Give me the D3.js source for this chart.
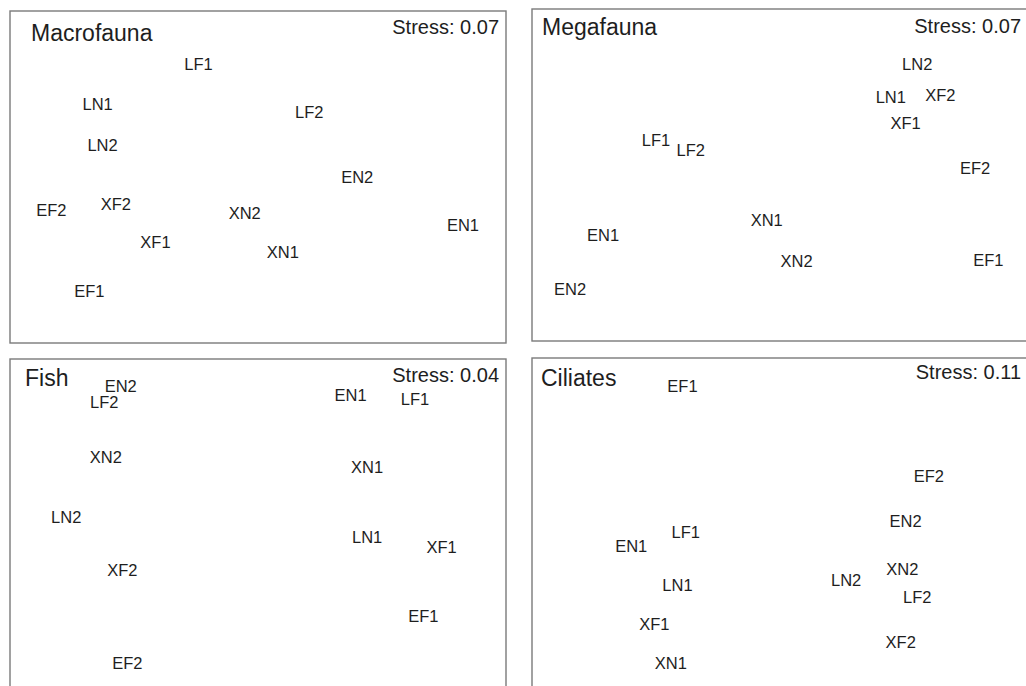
<!DOCTYPE html>
<html>
<head>
<meta charset="utf-8">
<script src="https://cdn.jsdelivr.net/npm/d3@7"></script>
<style>
  html, body { margin: 0; padding: 0; background: #fff; }
  svg { display: block; }
  text { font-family: "Liberation Sans", Arial, Helvetica, sans-serif; fill: #1e1e1e; }
</style>
</head>
<body>
<svg id="chart" width="1026" height="686"></svg>
<script>
// nMDS ordinations of sampling stations, one panel per faunal group
const panelNames = ["Macrofauna", "Megafauna", "Fish", "Ciliates"];
const stressValues = [0.07, 0.07, 0.04, 0.11];

// Station labels and their ordination coordinates (MDS1, MDS2)
const macroLabels = ["LF1", "LN1", "LF2", "LN2", "EN2", "EF2", "XF2", "XN2", "EN1", "XF1", "XN1", "EF1"];
const macroX = [-0.36, -0.97, 0.31, -0.94, 0.60, -1.25, -0.86, -0.08, 1.24, -0.62, 0.15, -1.02];
const macroY = [0.68, 0.44, 0.39, 0.19, 0.00, -0.20, -0.16, -0.22, -0.29, -0.39, -0.45, -0.69];

const megaLabels = ["LN2", "LN1", "XF2", "XF1", "LF1", "LF2", "EF2", "XN1", "EN1", "XN2", "EF1", "EN2"];
const megaX = [0.83, 0.67, 0.97, 0.76, -0.75, -0.54, 1.18, -0.08, -1.07, 0.10, 1.26, -1.27];
const megaY = [0.67, 0.47, 0.48, 0.31, 0.21, 0.15, 0.04, -0.27, -0.36, -0.52, -0.51, -0.69];

const fishLabels = ["EN2", "LF2", "EN1", "LF1", "XN2", "XN1", "LN2", "LN1", "XF1", "XF2", "EF1", "EF2"];
const fishX = [-0.83, -0.93, 0.56, 0.95, -0.92, 0.66, -1.16, 0.66, 1.11, -0.82, 1.00, -0.79];
const fishY = [0.84, 0.74, 0.78, 0.76, 0.41, 0.35, 0.05, -0.07, -0.13, -0.27, -0.55, -0.83];

const ciliLabels = ["EF1", "EF2", "EN2", "LF1", "EN1", "XN2", "LN2", "LN1", "LF2", "XF1", "XF2", "XN1"];
const ciliX = [-0.59, 0.90, 0.76, -0.57, -0.90, 0.74, 0.40, -0.62, 0.83, -0.76, 0.73, -0.66];
const ciliY = [0.83, 0.29, 0.02, -0.05, -0.13, -0.27, -0.34, -0.37, -0.44, -0.60, -0.71, -0.84];

const seriesLabels = [macroLabels, megaLabels, fishLabels, ciliLabels];
const seriesX = [macroX, megaX, fishX, ciliX];
const seriesY = [macroY, megaY, fishY, ciliY];

// Layout of the four framed panels
const panelW = 496, panelH = 332;
const panelPos = [[10, 11], [532, 9], [10, 359], [532, 358]];
const titleOffset = [[21, 30], [10, 26], [15, 27], [9, 28]];
const stressOffset = [23, 24, 23, 21];

const svg = d3.select("#chart");

const x = d3.scaleLinear().domain([-1.5, 1.5]).range([0, panelW]);
const y = d3.scaleLinear().domain([-1, 1]).range([panelH, 0]);

panelNames.forEach((name, i) => {
  const g = svg.append("g")
    .attr("transform", `translate(${panelPos[i][0]},${panelPos[i][1]})`);

  g.append("rect")
    .attr("x", 0).attr("y", 0)
    .attr("width", panelW).attr("height", panelH)
    .attr("fill", "none")
    .attr("stroke", "#7a7a7a")
    .attr("stroke-width", 1.4);

  g.append("text")
    .attr("x", titleOffset[i][0]).attr("y", titleOffset[i][1])
    .attr("font-size", 23)
    .text(name);

  g.append("text")
    .attr("x", panelW - 7).attr("y", stressOffset[i])
    .attr("text-anchor", "end")
    .attr("font-size", 20)
    .text("Stress: " + d3.format(".2f")(stressValues[i]));

  const pts = seriesLabels[i].map((lab, j) => ({ lab, mx: seriesX[i][j], my: seriesY[i][j] }));

  g.selectAll("text.site")
    .data(pts)
    .join("text")
    .attr("class", "site")
    .attr("x", d => x(d.mx))
    .attr("y", d => y(d.my))
    .attr("dy", "0.36em")
    .attr("text-anchor", "middle")
    .attr("font-size", 16.5)
    .text(d => d.lab);
});
</script>
</body>
</html>
